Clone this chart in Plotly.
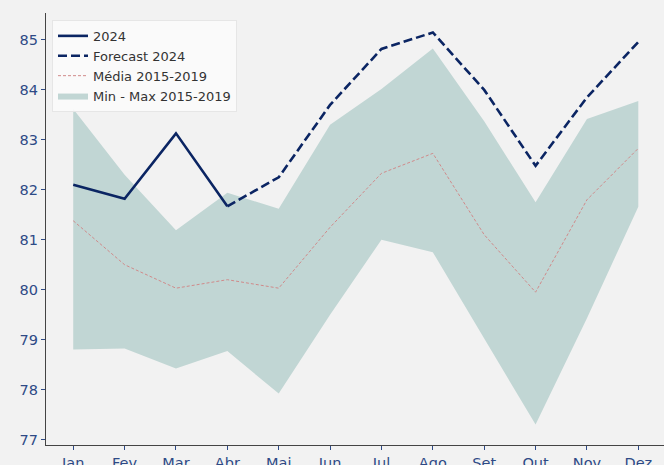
import plotly.graph_objects as go

meses = ["Jan", "Fev", "Mar", "Abr", "Mai", "Jun", "Jul", "Ago", "Set", "Out", "Nov", "Dez"]

# Realizado 2024 (Jan-Abr)
real_2024 = [82.10, 81.82, 83.13, 81.67]

# Projeção de Abr a Dez
forecast_meses = meses[3:]
forecast_2024 = [81.67, 82.25, 83.70, 84.82, 85.15, 84.00, 82.48, 83.85, 84.96]

# Histórico 2015-2019
media_15_19 = [81.38, 80.50, 80.03, 80.20, 80.03, 81.25, 82.33, 82.73, 81.10, 79.95, 81.80, 82.83]
max_15_19 = [83.62, 82.30, 81.19, 81.94, 81.62, 83.30, 84.02, 84.83, 83.37, 81.75, 83.42, 83.78]
min_15_19 = [78.80, 78.82, 78.42, 78.77, 77.92, 79.50, 81.00, 80.75, 79.02, 77.30, 79.43, 81.66]

NAVY = "#0b2563"
BAND = "#c1d6d4"
MEDIA = "#d08a8a"
TICK = "#2e4a86"

fig = go.Figure()

fig.add_trace(go.Scatter(
    x=meses, y=min_15_19, mode="lines", line=dict(width=0, color=BAND),
    showlegend=False, hoverinfo="skip",
))
fig.add_trace(go.Scatter(
    x=meses, y=max_15_19, mode="lines", line=dict(width=0, color=BAND),
    fill="tonexty", fillcolor=BAND, name="Min - Max 2015-2019", legendrank=4,
))
fig.add_trace(go.Scatter(
    x=meses, y=media_15_19, mode="lines",
    line=dict(color=MEDIA, width=1, dash="3px,2px"),
    name="Média 2015-2019", legendrank=3,
))
fig.add_trace(go.Scatter(
    x=forecast_meses, y=forecast_2024, mode="lines",
    line=dict(color=NAVY, width=2.6, dash="9px,4px"),
    name="Forecast 2024", legendrank=2,
))
fig.add_trace(go.Scatter(
    x=meses[:4], y=real_2024, mode="lines",
    line=dict(color=NAVY, width=2.6),
    name="2024", legendrank=1,
))

fig.update_layout(
    width=664, height=465,
    margin=dict(l=46, r=0, t=13, b=19.5),
    paper_bgcolor="#f2f2f2", plot_bgcolor="#f2f2f2",
    font=dict(family="DejaVu Sans", size=13, color="#333333"),
    showlegend=True,
    legend=dict(
        x=0.0097, y=0.984, xanchor="left", yanchor="top",
        traceorder="normal",
        bgcolor="rgba(252,252,252,0.85)", bordercolor="#e6e6e6", borderwidth=1,
        font=dict(size=13, color="#333333"), itemwidth=30,
        tracegroupgap=0,
    ),
)

fig.update_xaxes(
    type="category", categoryorder="array", categoryarray=meses,
    range=[-0.53, 11.5], showgrid=False, zeroline=False, automargin=False,
    showline=True, linecolor="#444444", linewidth=1.2,
    ticks="outside", ticklen=4, tickcolor=TICK, tickwidth=1,
    tickfont=dict(size=14.5, color=TICK),
)
fig.update_yaxes(
    range=[76.89, 85.54], dtick=1, tick0=77, showgrid=False, zeroline=False,
    automargin=False,
    showline=True, linecolor="#444444", linewidth=1.2,
    ticks="outside", ticklen=4, tickcolor=TICK, tickwidth=1,
    tickfont=dict(size=14.5, color=TICK),
)

fig.write_html("out.html")
